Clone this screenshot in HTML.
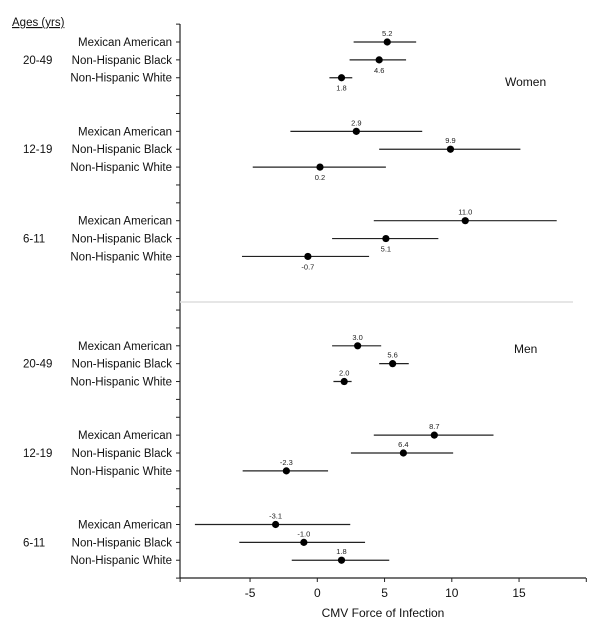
<!DOCTYPE html>
<html><head><meta charset="utf-8"><style>
body{margin:0;background:#fff}
svg{display:block;font-family:"Liberation Sans",Arial,sans-serif}
</style></head><body>
<svg id="chart" width="600" height="638" viewBox="0 0 600 638" xmlns="http://www.w3.org/2000/svg"></svg>
<script>
const groups = ["Mexican American","Non-Hispanic Black","Non-Hispanic White"];
const ages = ["20-49","12-19","6-11"];
const womenEst = [5.2,4.6,1.8, 2.9,9.9,0.2, 11.0,5.1,-0.7];
const womenLo  = [2.7,2.4,0.9, -2.0,4.6,-4.8, 4.2,1.1,-5.6];
const womenHi  = [7.35,6.6,2.6, 7.8,15.1,5.1, 17.8,9.0,3.85];
const womenLabelBelow = [0,1,1, 0,0,1, 0,1,1];
const menEst = [3.0,5.6,2.0, 8.7,6.4,-2.3, -3.1,-1.0,1.8];
const menLo  = [1.1,4.6,1.2, 4.2,2.5,-5.55, -9.1,-5.8,-1.9];
const menHi  = [4.75,6.8,2.55, 13.1,10.1,0.8, 2.45,3.55,5.35];
const xTicks = [-5,0,5,10,15];

const svg = document.getElementById('chart');
const NS = "http://www.w3.org/2000/svg";
function mk(tag, attrs, text){const e=document.createElementNS(NS,tag);for(const k in attrs)e.setAttribute(k,attrs[k]);if(text!==undefined)e.textContent=text;svg.appendChild(e);return e;}
const x = v => 317.3 + v*13.45;
const rowY = k => 42 + k*17.87;
const axisX = 180, axisBottom = 578;

let a = mk('line',{x1:axisX,y1:24,x2:axisX,y2:axisBottom,stroke:'#222','stroke-width':1.2});


a = mk('line',{x1:axisX,y1:axisBottom,x2:586,y2:axisBottom,stroke:'#222','stroke-width':1.2});


for(let k=-1;k<=30;k++){
  const t = mk('line',{x1:176,y1:rowY(k),x2:axisX,y2:rowY(k),stroke:'#222','stroke-width':1});
  
  
}
[-10.2,...xTicks,20].forEach(v=>{
  const t = mk('line',{x1:x(v),y1:axisBottom,x2:x(v),y2:axisBottom+4,stroke:'#222','stroke-width':1});
  
  
});
xTicks.forEach(v=>{
  const t = mk('text',{x:x(v),y:597,'font-size':12,'text-anchor':'middle',fill:'#111'},String(v));
  
  
});
let tt = mk('text',{x:383,y:617,'font-size':12,'text-anchor':'middle',fill:'#111'},'CMV Force of Infection');



let d = mk('line',{x1:axisX,y1:302,x2:573,y2:302,stroke:'#ddd','stroke-width':1.5});



tt = mk('text',{x:12,y:26,'font-size':11.5,fill:'#111','text-decoration':'underline'},'Ages (yrs)');


tt = mk('text',{x:505,y:86,'font-size':12,fill:'#111'},'Women');


tt = mk('text',{x:514,y:353,'font-size':12,fill:'#111'},'Men');



function drawSet(est,lo,hi,below,startRows){
  for(let g=0;g<3;g++){
    const base = startRows[g];
    const al = mk('text',{x:23,y:rowY(base+1)+4,'font-size':11.5,fill:'#111'},ages[g]);
    
    
    for(let r=0;r<3;r++){
      const i = g*3+r, y = rowY(base+r);
      const gl = mk('text',{x:172,y:y+4,'font-size':11.5,'text-anchor':'end',fill:'#111'},groups[r]);
      
      
      const ci = mk('line',{x1:x(lo[i]),y1:y,x2:x(hi[i]),y2:y,stroke:'#222','stroke-width':1.2});
      
      
      const p = mk('circle',{cx:x(est[i]),cy:y,r:3.6,fill:'#000'});
      
      
      const ly = below[i] ? y+13 : y-6;
      const vl = mk('text',{x:x(est[i]),y:ly,'font-size':7.5,'text-anchor':'middle',fill:'#222'},est[i].toFixed(1));
      
      
    }
  }
}
drawSet(womenEst,womenLo,womenHi,womenLabelBelow,[0,5,10]);
drawSet(menEst,menLo,menHi,[0,0,0,0,0,0,0,0,0],[17,22,27]);
</script>
</body></html>
